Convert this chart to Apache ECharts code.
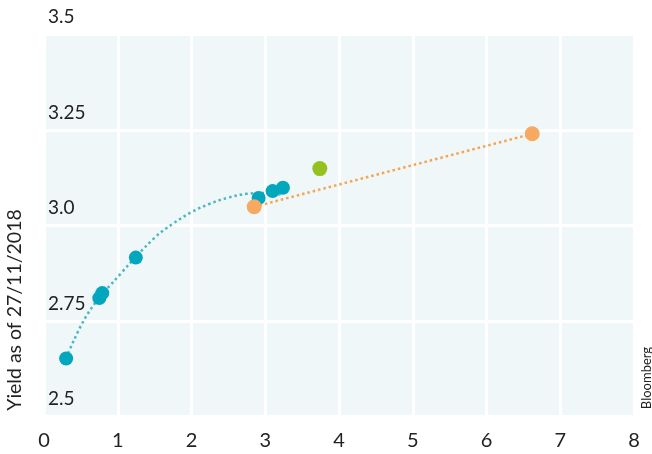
<!DOCTYPE html>
<html><head><meta charset="utf-8">
<script src="https://cdn.jsdelivr.net/npm/echarts@6/dist/echarts.min.js"></script>
<style>html,body{margin:0;padding:0;background:#fff}#c{width:652px;height:454px}</style>
</head><body><div id="c"></div>
<script>
var xTicks = ['0','1','2','3','4','5','6','7','8'];
var yTickLabels = {'2.5':'2.5','2.75':'2.75','3':'3.0','3.25':'3.25','3.5':'3.5'};
var tealPoints = [[0.30,2.652],[0.75,2.810],[0.79,2.823],[1.245,2.916],[2.91,3.072],[3.10,3.090],[3.24,3.099]];
var tealCurve = [[0.30,2.652],[0.60,2.771],[1.05,2.876],[1.50,2.968],[1.75,3.005],[2.0,3.035],[2.25,3.057],[2.5,3.073],[2.75,3.083],[3.0,3.085],[3.24,3.080]];
var orangePoints = [[2.85,3.049],[6.62,3.240]];
var greenPoints = [[3.74,3.149]];
var yTitle = 'Yield as of 27/11/2018';
var source = 'Bloomberg';

var font = 'Lato, "Open Sans", sans-serif';
var chart = echarts.init(document.getElementById('c'));
chart.setOption({
  animation: false,
  grid: {left: 44, right: 18, top: 34.5, bottom: 37.5, show: true, backgroundColor: '#EFF7F8', borderWidth: 0},
  xAxis: {type: 'value', min: 0, max: 8, interval: 1,
    axisLine: {show: false}, axisTick: {show: false},
    splitLine: {show: true, lineStyle: {color: '#ffffff', width: 3}},
    axisLabel: {fontSize: 20, color: '#222', fontFamily: font, margin: 14, formatter: function(v){return xTicks[Math.round(v)];}}},
  yAxis: {type: 'value', min: 2.5, max: 3.5, interval: 0.25,
    axisLine: {show: false}, axisTick: {show: false},
    splitLine: {show: true, lineStyle: {color: '#ffffff', width: 3}},
    axisLabel: {inside: true, margin: 4, fontSize: 19, color: '#222', fontFamily: font, verticalAlign: 'bottom', padding: [0,0,8,0],
      formatter: function(v){return yTickLabels[String(Math.round(v*100)/100)];}}},
  graphic: [
    {type: 'text', x: 15, y: 310, rotation: Math.PI/2, style: {text: yTitle, fontSize: 19.5, fill: '#222', fontFamily: font, align: 'center', verticalAlign: 'middle'}},
    {type: 'text', x: 647, y: 378, rotation: Math.PI/2, style: {text: source, fontSize: 13, fill: '#222', fontFamily: font, align: 'center', verticalAlign: 'middle'}}
  ],
  series: [
    {type: 'line', data: tealCurve, smooth: 0.4, showSymbol: false, z: 2,
      lineStyle: {color: '#4CB6C6', width: 2.5, type: [2.5, 3]}},
    {type: 'scatter', data: tealPoints, symbolSize: 14, z: 3, itemStyle: {color: '#02A6BD', opacity: 1}},
    {type: 'line', data: orangePoints, showSymbol: false, z: 4,
      lineStyle: {color: '#F6A450', width: 2.5, type: [2.5, 3]}},
    {type: 'scatter', data: orangePoints, symbolSize: 15, z: 5, itemStyle: {color: '#F7A962', opacity: 1}},
    {type: 'scatter', data: greenPoints, symbolSize: 15, z: 5, itemStyle: {color: '#95C120', opacity: 1}}
  ]
});
</script></body></html>
